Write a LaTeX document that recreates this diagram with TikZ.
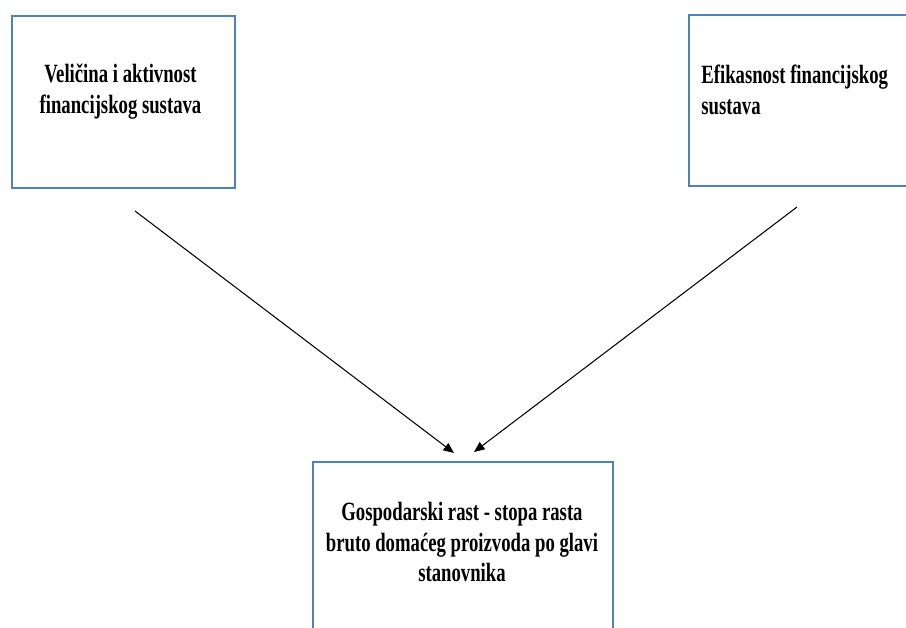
\documentclass[tikz,border=0pt]{standalone}
\usepackage{fontspec}
\setmainfont{Liberation Serif}
\newfontfamily\boxfont[FakeStretch=0.71]{Liberation Serif}
\usepackage{xcolor}
\usetikzlibrary{arrows.meta,positioning}
\definecolor{boxblue}{RGB}{79,129,189}

\begin{document}
\begin{tikzpicture}[
		box/.style={draw=boxblue, line width=1.1pt, anchor=north west, inner sep=0pt},
		boxtext/.style={inner sep=0pt, font={\boxfont\bfseries\fontsize{15}{17.6}\selectfont}},
		arrow/.style={-{Triangle[length=6pt,width=5pt]}, line width=0.6pt}
	]
		\useasboundingbox (0,0) rectangle (18.12,-12.56);
		\clip (0,0) rectangle (18.12,-12.56);
		
		% the three boxes
		\node[box, minimum width=4.46cm, minimum height=3.44cm] (velicina) at (0.22,-0.30) {};
		\node[box, minimum width=4.84cm, minimum height=3.42cm] (efikasnost) at (13.76,-0.28) {};
		\node[box, minimum width=6.00cm, minimum height=4.40cm] (rast) at (6.24,-9.22) {};
		
		\node[boxtext, align=center] (velicinatxt) at (2.41,-1.84)
			{Veličina i aktivnost\\financijskog sustava};
		\node[boxtext, align=left, anchor=west] (efikasnosttxt) at (14.02,-1.80)
			{Efikasnost financijskog\\sustava};
		\node[boxtext, align=center] (rasttxt) at (9.24,-10.84)
			{Gospodarski rast - stopa rasta\\bruto domaćeg proizvoda po glavi\\stanovnika};
		
		% arrows
		\coordinate (velicinaout) at (2.70,-4.22);
		\coordinate (efikasnostout) at (15.94,-4.14);
		\coordinate (rastinl) at (9.08,-9.06);
		\coordinate (rastinr) at (9.48,-9.04);
		
		\draw[arrow] (velicinaout) -- (rastinl);
		\draw[arrow] (efikasnostout) -- (rastinr);
		
	\end{tikzpicture}
\end{document}
